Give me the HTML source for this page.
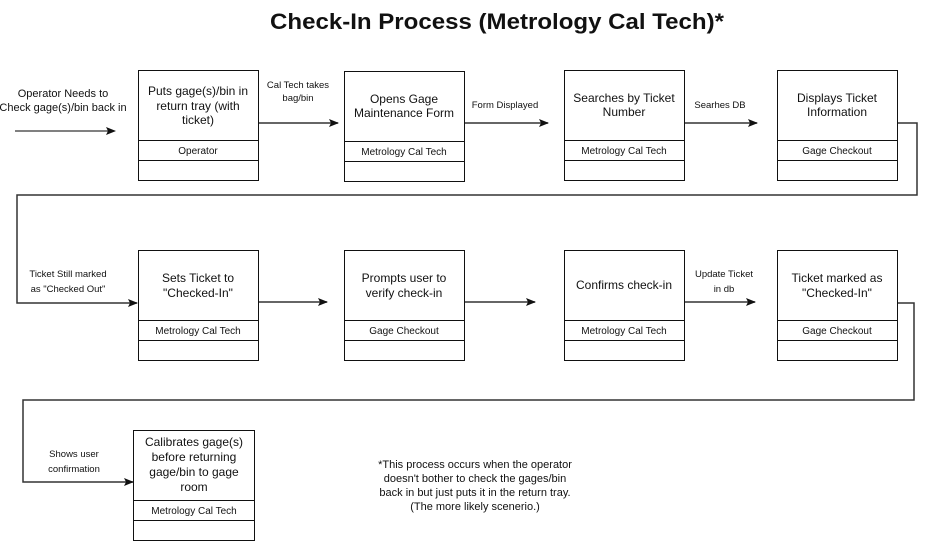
<!DOCTYPE html>
<html><head><meta charset="utf-8"><style>
html,body{margin:0;padding:0;background:#fff;}
svg{display:block;}
text{font-family:"Liberation Sans",Arial,sans-serif;fill:#111;}
.b{font-size:12px;text-anchor:middle;}
.s{font-size:10px;text-anchor:middle;}
.l{font-size:9.5px;text-anchor:middle;}
.box{fill:#fff;stroke:#111;stroke-width:1;}
.c{fill:none;stroke:#333;stroke-width:1.5;}
</style></head><body>
<svg width="926" height="541" viewBox="0 0 926 541">
<defs><marker id="a" markerWidth="10" markerHeight="8" refX="9" refY="4" orient="auto" markerUnits="userSpaceOnUse"><path d="M0,0 L10,4 L0,8 L2,4 Z" fill="#111"/></marker></defs>
<text x="497" y="29" style="font-size:22px;font-weight:bold;text-anchor:middle" textLength="454" lengthAdjust="spacingAndGlyphs">Check-In Process (Metrology Cal Tech)*</text>

<!-- connectors -->
<line class="c" x1="15" y1="131" x2="115" y2="131" marker-end="url(#a)" style="stroke:#000;stroke-width:1"/>
<line class="c" x1="258" y1="123" x2="338" y2="123" marker-end="url(#a)"/>
<line class="c" x1="464" y1="123" x2="548" y2="123" marker-end="url(#a)"/>
<line class="c" x1="684" y1="123" x2="757" y2="123" marker-end="url(#a)"/>
<polyline class="c" points="897,123 917,123 917,195 17,195 17,303 137,303" marker-end="url(#a)"/>
<line class="c" x1="258" y1="302" x2="327" y2="302" marker-end="url(#a)"/>
<line class="c" x1="464" y1="302" x2="535" y2="302" marker-end="url(#a)"/>
<line class="c" x1="684" y1="302" x2="755" y2="302" marker-end="url(#a)"/>
<polyline class="c" points="897,303 914,303 914,400 23,400 23,482 133,482" marker-end="url(#a)"/>

<!-- labels -->
<text class="b" x="63" y="97" style="font-size:11px">Operator Needs to</text>
<text class="b" x="63" y="111" style="font-size:11px">Check gage(s)/bin back in</text>
<text class="l" x="298" y="88">Cal Tech takes</text>
<text class="l" x="298" y="101">bag/bin</text>
<text class="l" x="505" y="108">Form Displayed</text>
<text class="l" x="720" y="108">Searhes DB</text>
<text class="l" x="68" y="277">Ticket Still marked</text>
<text class="l" x="68" y="292">as "Checked Out"</text>
<text class="l" x="724" y="277">Update Ticket</text>
<text class="l" x="724" y="292">in db</text>
<text class="l" x="74" y="457">Shows user</text>
<text class="l" x="74" y="472">confirmation</text>

<!-- row 1 -->
<rect class="box" x="138.5" y="70.5" width="120" height="110"/>
<line class="c" style="stroke:#111;stroke-width:1" x1="138" y1="140.5" x2="258" y2="140.5"/>
<line class="c" style="stroke:#111;stroke-width:1" x1="138" y1="160.5" x2="258" y2="160.5"/>
<text class="b" x="198" y="95">Puts gage(s)/bin in</text>
<text class="b" x="198" y="110">return tray (with</text>
<text class="b" x="198" y="124">ticket)</text>
<text class="s" x="198" y="154">Operator</text>

<rect class="box" x="344.5" y="71.5" width="120" height="110"/>
<line class="c" style="stroke:#111;stroke-width:1" x1="344" y1="141.5" x2="464" y2="141.5"/>
<line class="c" style="stroke:#111;stroke-width:1" x1="344" y1="161.5" x2="464" y2="161.5"/>
<text class="b" x="404" y="103">Opens Gage</text>
<text class="b" x="404" y="117">Maintenance Form</text>
<text class="s" x="404" y="155">Metrology Cal Tech</text>

<rect class="box" x="564.5" y="70.5" width="120" height="110"/>
<line class="c" style="stroke:#111;stroke-width:1" x1="564" y1="140.5" x2="684" y2="140.5"/>
<line class="c" style="stroke:#111;stroke-width:1" x1="564" y1="160.5" x2="684" y2="160.5"/>
<text class="b" x="624" y="102">Searches by Ticket</text>
<text class="b" x="624" y="116">Number</text>
<text class="s" x="624" y="154">Metrology Cal Tech</text>

<rect class="box" x="777.5" y="70.5" width="120" height="110"/>
<line class="c" style="stroke:#111;stroke-width:1" x1="777" y1="140.5" x2="897" y2="140.5"/>
<line class="c" style="stroke:#111;stroke-width:1" x1="777" y1="160.5" x2="897" y2="160.5"/>
<text class="b" x="837" y="102">Displays Ticket</text>
<text class="b" x="837" y="116">Information</text>
<text class="s" x="837" y="154">Gage Checkout</text>

<!-- row 2 -->
<rect class="box" x="138.5" y="250.5" width="120" height="110"/>
<line class="c" style="stroke:#111;stroke-width:1" x1="138" y1="320.5" x2="258" y2="320.5"/>
<line class="c" style="stroke:#111;stroke-width:1" x1="138" y1="340.5" x2="258" y2="340.5"/>
<text class="b" x="198" y="282">Sets Ticket to</text>
<text class="b" x="198" y="297">"Checked-In"</text>
<text class="s" x="198" y="334">Metrology Cal Tech</text>

<rect class="box" x="344.5" y="250.5" width="120" height="110"/>
<line class="c" style="stroke:#111;stroke-width:1" x1="344" y1="320.5" x2="464" y2="320.5"/>
<line class="c" style="stroke:#111;stroke-width:1" x1="344" y1="340.5" x2="464" y2="340.5"/>
<text class="b" x="404" y="282">Prompts user to</text>
<text class="b" x="404" y="297">verify check-in</text>
<text class="s" x="404" y="334">Gage Checkout</text>

<rect class="box" x="564.5" y="250.5" width="120" height="110"/>
<line class="c" style="stroke:#111;stroke-width:1" x1="564" y1="320.5" x2="684" y2="320.5"/>
<line class="c" style="stroke:#111;stroke-width:1" x1="564" y1="340.5" x2="684" y2="340.5"/>
<text class="b" x="624" y="289">Confirms check-in</text>
<text class="s" x="624" y="334">Metrology Cal Tech</text>

<rect class="box" x="777.5" y="250.5" width="120" height="110"/>
<line class="c" style="stroke:#111;stroke-width:1" x1="777" y1="320.5" x2="897" y2="320.5"/>
<line class="c" style="stroke:#111;stroke-width:1" x1="777" y1="340.5" x2="897" y2="340.5"/>
<text class="b" x="837" y="282">Ticket marked as</text>
<text class="b" x="837" y="297">"Checked-In"</text>
<text class="s" x="837" y="334">Gage Checkout</text>

<!-- row 3 -->
<rect class="box" x="133.5" y="430.5" width="121" height="110"/>
<line class="c" style="stroke:#111;stroke-width:1" x1="133" y1="500.5" x2="254" y2="500.5"/>
<line class="c" style="stroke:#111;stroke-width:1" x1="133" y1="520.5" x2="254" y2="520.5"/>
<text class="b" x="194" y="446">Calibrates gage(s)</text>
<text class="b" x="194" y="461">before returning</text>
<text class="b" x="194" y="476">gage/bin to gage</text>
<text class="b" x="194" y="491">room</text>
<text class="s" x="194" y="514">Metrology Cal Tech</text>

<text class="b" x="475" y="468" style="font-size:11px">*This process occurs when the operator</text>
<text class="b" x="475" y="482" style="font-size:11px">doesn't bother to check the gages/bin</text>
<text class="b" x="475" y="496" style="font-size:11px">back in but just puts it in the return tray.</text>
<text class="b" x="475" y="510" style="font-size:11px">(The more likely scenerio.)</text>
</svg>
</body></html>
